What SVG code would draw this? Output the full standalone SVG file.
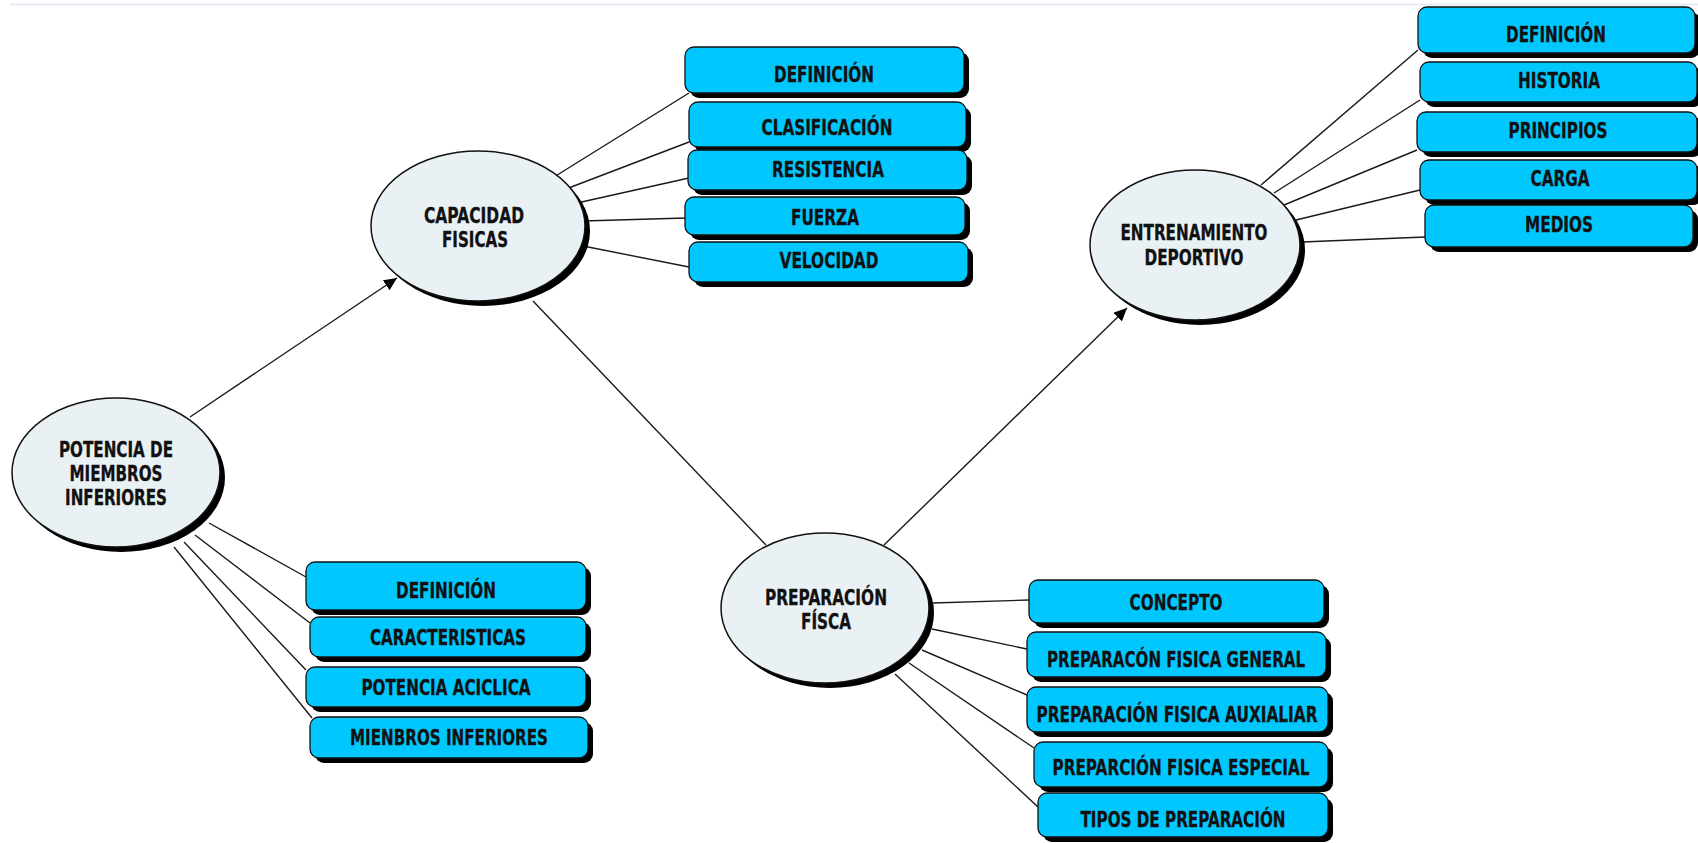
<svg xmlns="http://www.w3.org/2000/svg" width="1698" height="843" viewBox="0 0 1698 843">
  <defs>
    <marker id="arrow" markerUnits="userSpaceOnUse" markerWidth="14" markerHeight="12" refX="13" refY="6" orient="auto">
      <path d="M0,0 L13,6 L0,12 z" fill="#000"/>
    </marker>
    <style>
      .bg { fill: #ffffff; }
      .rule { stroke: #e6ecf3; stroke-width: 2; }
      .link { stroke: #1a1a1a; stroke-width: 1.4; fill: none; }
      .shadow { fill: #000000; }
      .topic { fill: #eaf1f4; stroke: #111; stroke-width: 1.5; }
      .item { fill: #00c8ff; stroke: #111; stroke-width: 1.3; }
      text { font-family: "DejaVu Sans", "Liberation Sans", sans-serif; font-weight: bold; font-size: 20.5px; fill: #111; stroke: #111; stroke-width: 0.35; text-anchor: middle; }
    </style>
  </defs>

  <rect class="bg" x="0" y="0" width="1698" height="843"/>
  <line class="rule" x1="10" y1="4.5" x2="1698" y2="4.5"/>

  <!-- connectors -->
  <g id="connectors">
    <line class="link" x1="190" y1="417" x2="397" y2="278" marker-end="url(#arrow)"/>
    <line class="link" x1="533" y1="301" x2="766" y2="545"/>
    <line class="link" x1="884" y1="545" x2="1127" y2="308" marker-end="url(#arrow)"/>

    <line class="link" x1="554" y1="177" x2="689" y2="93"/>
    <line class="link" x1="566" y1="189" x2="689" y2="142"/>
    <line class="link" x1="577" y1="203" x2="689" y2="178"/>
    <line class="link" x1="583" y1="221" x2="686" y2="218"/>
    <line class="link" x1="583" y1="246" x2="689" y2="267"/>

    <line class="link" x1="209" y1="523" x2="306" y2="577"/>
    <line class="link" x1="195" y1="535" x2="310" y2="623"/>
    <line class="link" x1="184" y1="542" x2="306" y2="670"/>
    <line class="link" x1="174" y1="547" x2="312" y2="718"/>

    <line class="link" x1="933" y1="603" x2="1029" y2="600"/>
    <line class="link" x1="932" y1="629" x2="1027" y2="649"/>
    <line class="link" x1="922" y1="650" x2="1027" y2="695"/>
    <line class="link" x1="909" y1="663" x2="1034" y2="748"/>
    <line class="link" x1="895" y1="674" x2="1038" y2="807"/>

    <line class="link" x1="1261" y1="185" x2="1418" y2="50"/>
    <line class="link" x1="1274" y1="193" x2="1420" y2="100"/>
    <line class="link" x1="1284" y1="205" x2="1417" y2="150"/>
    <line class="link" x1="1296" y1="220" x2="1420" y2="190"/>
    <line class="link" x1="1302" y1="242" x2="1425" y2="237"/>
  </g>

  <!-- main topics -->
  <g id="potencia">
    <ellipse class="shadow" cx="121" cy="477.5" rx="104" ry="74.5"/>
    <ellipse class="topic" cx="116" cy="472.5" rx="104" ry="74.5"/>
    <text x="116" y="457" textLength="114" lengthAdjust="spacingAndGlyphs">POTENCIA DE</text>
    <text x="116" y="481" textLength="93" lengthAdjust="spacingAndGlyphs">MIEMBROS</text>
    <text x="116" y="505" textLength="102" lengthAdjust="spacingAndGlyphs">INFERIORES</text>
  </g>

  <g id="capacidad">
    <ellipse class="shadow" cx="483" cy="231" rx="107" ry="75"/>
    <ellipse class="topic" cx="478" cy="226" rx="107" ry="75"/>
    <text x="474" y="223" textLength="100" lengthAdjust="spacingAndGlyphs">CAPACIDAD</text>
    <text x="475" y="247" textLength="66" lengthAdjust="spacingAndGlyphs">FISICAS</text>
  </g>

  <g id="preparacion">
    <ellipse class="shadow" cx="830" cy="613" rx="104" ry="75"/>
    <ellipse class="topic" cx="825" cy="608" rx="104" ry="75"/>
    <text x="826" y="605" textLength="122" lengthAdjust="spacingAndGlyphs">PREPARACIÓN</text>
    <text x="826" y="629" textLength="50" lengthAdjust="spacingAndGlyphs">FÍSCA</text>
  </g>

  <g id="entrenamiento">
    <ellipse class="shadow" cx="1200" cy="250" rx="105" ry="75"/>
    <ellipse class="topic" cx="1195" cy="245" rx="105" ry="75"/>
    <text x="1194" y="240" textLength="147" lengthAdjust="spacingAndGlyphs">ENTRENAMIENTO</text>
    <text x="1194" y="265" textLength="99" lengthAdjust="spacingAndGlyphs">DEPORTIVO</text>
  </g>

  <!-- sub-topics of CAPACIDAD FISICAS -->
  <g id="cap-definicion">
    <rect class="shadow" x="690" y="52" width="279" height="46" rx="9"/>
    <rect class="item" x="685" y="47" width="279" height="46" rx="9"/>
    <text x="824" y="81.5" textLength="100" lengthAdjust="spacingAndGlyphs">DEFINICIÓN</text>
  </g>
  <g id="cap-clasificacion">
    <rect class="shadow" x="694" y="107" width="277" height="45" rx="9"/>
    <rect class="item" x="689" y="102" width="277" height="45" rx="9"/>
    <text x="827" y="134.5" textLength="131" lengthAdjust="spacingAndGlyphs">CLASIFICACIÓN</text>
  </g>
  <g id="cap-resistencia">
    <rect class="shadow" x="693" y="155" width="279" height="40" rx="9"/>
    <rect class="item" x="688" y="150" width="279" height="40" rx="9"/>
    <text x="828" y="177" textLength="112" lengthAdjust="spacingAndGlyphs">RESISTENCIA</text>
  </g>
  <g id="cap-fuerza">
    <rect class="shadow" x="690" y="202" width="280" height="38" rx="9"/>
    <rect class="item" x="685" y="197" width="280" height="38" rx="9"/>
    <text x="825" y="225" textLength="68" lengthAdjust="spacingAndGlyphs">FUERZA</text>
  </g>
  <g id="cap-velocidad">
    <rect class="shadow" x="694" y="247" width="279" height="40" rx="9"/>
    <rect class="item" x="689" y="242" width="279" height="40" rx="9"/>
    <text x="829" y="267.5" textLength="99" lengthAdjust="spacingAndGlyphs">VELOCIDAD</text>
  </g>

  <!-- sub-topics of POTENCIA DE MIEMBROS INFERIORES -->
  <g id="pot-definicion">
    <rect class="shadow" x="311" y="567" width="280" height="48" rx="9"/>
    <rect class="item" x="306" y="562" width="280" height="48" rx="9"/>
    <text x="446" y="597.5" textLength="100" lengthAdjust="spacingAndGlyphs">DEFINICIÓN</text>
  </g>
  <g id="pot-caracteristicas">
    <rect class="shadow" x="315" y="622" width="276" height="40" rx="9"/>
    <rect class="item" x="310" y="617" width="276" height="40" rx="9"/>
    <text x="448" y="644.5" textLength="156" lengthAdjust="spacingAndGlyphs">CARACTERISTICAS</text>
  </g>
  <g id="pot-aciclica">
    <rect class="shadow" x="311" y="672" width="280" height="40" rx="9"/>
    <rect class="item" x="306" y="667" width="280" height="40" rx="9"/>
    <text x="446" y="694.5" textLength="169" lengthAdjust="spacingAndGlyphs">POTENCIA ACICLICA</text>
  </g>
  <g id="pot-miembros">
    <rect class="shadow" x="315" y="722" width="278" height="41" rx="9"/>
    <rect class="item" x="310" y="717" width="278" height="41" rx="9"/>
    <text x="449" y="744.5" textLength="198" lengthAdjust="spacingAndGlyphs">MIENBROS INFERIORES</text>
  </g>

  <!-- sub-topics of PREPARACIÓN FÍSCA -->
  <g id="pre-concepto">
    <rect class="shadow" x="1034" y="585" width="295" height="43" rx="9"/>
    <rect class="item" x="1029" y="580" width="295" height="43" rx="9"/>
    <text x="1176" y="609.5" textLength="93" lengthAdjust="spacingAndGlyphs">CONCEPTO</text>
  </g>
  <g id="pre-general">
    <rect class="shadow" x="1032" y="637" width="299" height="45" rx="9"/>
    <rect class="item" x="1027" y="632" width="299" height="45" rx="9"/>
    <text x="1176" y="666.5" textLength="258" lengthAdjust="spacingAndGlyphs">PREPARACÓN FISICA GENERAL</text>
  </g>
  <g id="pre-auxiliar">
    <rect class="shadow" x="1032" y="692" width="301" height="45" rx="9"/>
    <rect class="item" x="1027" y="687" width="301" height="45" rx="9"/>
    <text x="1177" y="721.5" textLength="281" lengthAdjust="spacingAndGlyphs">PREPARACIÓN FISICA AUXIALIAR</text>
  </g>
  <g id="pre-especial">
    <rect class="shadow" x="1039" y="747" width="294" height="45" rx="9"/>
    <rect class="item" x="1034" y="742" width="294" height="45" rx="9"/>
    <text x="1181" y="774.5" textLength="257" lengthAdjust="spacingAndGlyphs">PREPARCIÓN FISICA ESPECIAL</text>
  </g>
  <g id="pre-tipos">
    <rect class="shadow" x="1043" y="798" width="290" height="44" rx="9"/>
    <rect class="item" x="1038" y="793" width="290" height="44" rx="9"/>
    <text x="1183" y="826.5" textLength="205" lengthAdjust="spacingAndGlyphs">TIPOS DE PREPARACIÓN</text>
  </g>

  <!-- sub-topics of ENTRENAMIENTO DEPORTIVO -->
  <g id="ent-definicion">
    <rect class="shadow" x="1423" y="12" width="277" height="46" rx="9"/>
    <rect class="item" x="1418" y="7" width="277" height="46" rx="9"/>
    <text x="1556" y="41.5" textLength="100" lengthAdjust="spacingAndGlyphs">DEFINICIÓN</text>
  </g>
  <g id="ent-historia">
    <rect class="shadow" x="1425" y="67" width="277" height="40" rx="9"/>
    <rect class="item" x="1420" y="62" width="277" height="40" rx="9"/>
    <text x="1559" y="88" textLength="82" lengthAdjust="spacingAndGlyphs">HISTORIA</text>
  </g>
  <g id="ent-principios">
    <rect class="shadow" x="1422" y="117" width="280" height="40" rx="9"/>
    <rect class="item" x="1417" y="112" width="280" height="40" rx="9"/>
    <text x="1558" y="138" textLength="99" lengthAdjust="spacingAndGlyphs">PRINCIPIOS</text>
  </g>
  <g id="ent-carga">
    <rect class="shadow" x="1425" y="165" width="277" height="40" rx="9"/>
    <rect class="item" x="1420" y="160" width="277" height="40" rx="9"/>
    <text x="1560" y="186" textLength="59" lengthAdjust="spacingAndGlyphs">CARGA</text>
  </g>
  <g id="ent-medios">
    <rect class="shadow" x="1430" y="210" width="268" height="42" rx="9"/>
    <rect class="item" x="1425" y="205" width="268" height="42" rx="9"/>
    <text x="1559" y="231.5" textLength="68" lengthAdjust="spacingAndGlyphs">MEDIOS</text>
  </g>
</svg>
